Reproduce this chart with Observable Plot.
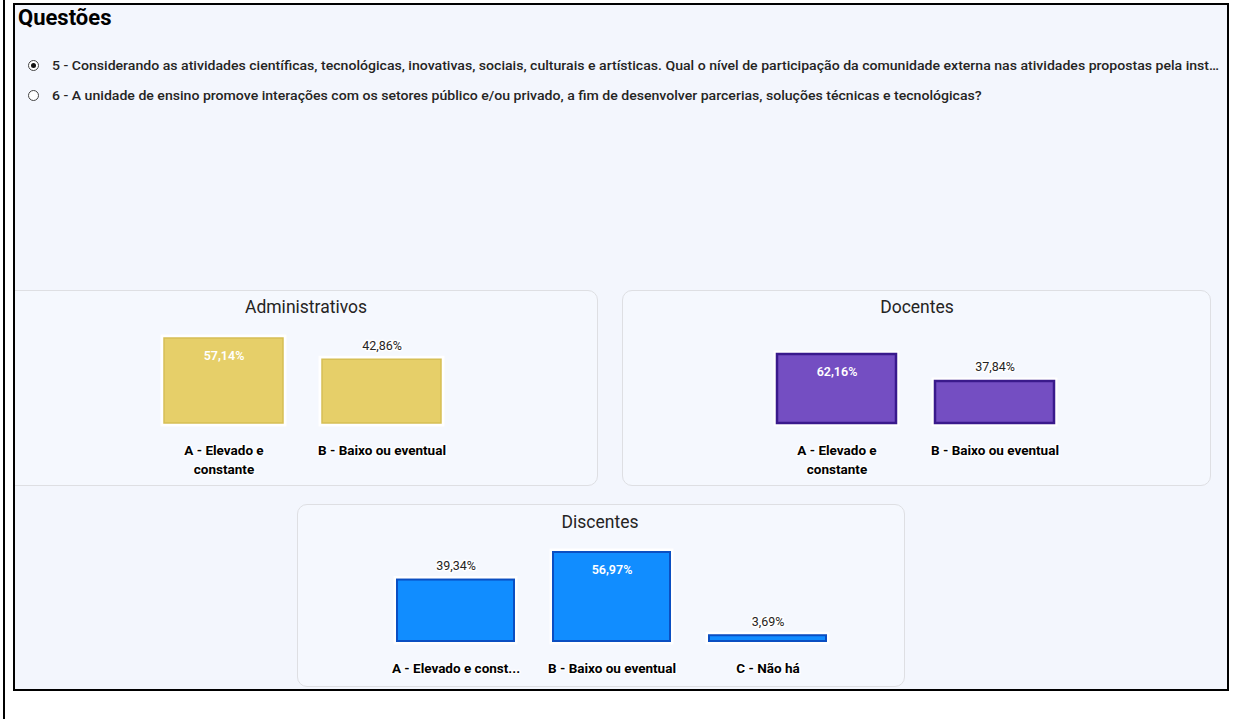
<!DOCTYPE html>
<html>
<head>
<meta charset="utf-8">
<script src="https://cdn.jsdelivr.net/npm/d3@7"></script>
<script src="https://cdn.jsdelivr.net/npm/@observablehq/plot@0.6"></script>
<style>
  html, body { margin: 0; padding: 0; background: #fff; width: 1246px; height: 719px; overflow: hidden; font-family: Roboto, "Noto Sans", sans-serif; }
  #outerline { position: absolute; left: 3px; top: 0; width: 2px; height: 719px; background: #000; }
  #frame { position: absolute; left: 13px; top: 3px; width: 1216px; height: 688px; border: 2px solid #000; box-sizing: border-box; overflow: hidden; background: #f3f6fd; }
  #inner { position: absolute; left: -15px; top: -5px; width: 1246px; height: 719px; }
  .abs { position: absolute; }
  #hdr { left: 18px; top: 5px; font-size: 22px; font-weight: bold; color: #000; }
  .radio { position: absolute; width: 9px; height: 9px; border: 1.3px solid #444; border-radius: 50%; background: #fff; }
  .radio.sel::after { content: ""; position: absolute; left: 2px; top: 2px; width: 5px; height: 5px; border-radius: 50%; background: #111; }
  .q { position: absolute; left: 52px; font-size: 12px; font-weight: 500; color: #252423; white-space: nowrap; transform-origin: 0 50%; line-height: 16px; }
  .card { position: absolute; background: #f5f8fe; border: 1px solid #dedfe3; border-radius: 10px; box-sizing: border-box; }
  .ctitle { position: absolute; font-size: 17.5px; color: #252423; text-align: center; white-space: nowrap; transform: translateX(-50%); line-height: 20px; }
  .plot { position: absolute; }
  #measure { position: absolute; visibility: hidden; white-space: nowrap; font-size: 12px; font-weight: 500; font-family: Roboto, "Noto Sans", sans-serif; }
</style>
</head>
<body>
<div id="outerline"></div>
<div id="frame"><div id="inner">
  <div id="hdr" class="abs">Questões</div>
  <div class="radio sel" style="left:28px; top:60px;"></div>
  <div class="radio" style="left:28px; top:90px;"></div>
  <div id="q1" class="q" style="top:58px;"></div>
  <div id="q2" class="q" style="top:88px;"></div>

  <div class="card" style="left:5px; top:290px; width:593px; height:196px;"></div>
  <div class="card" style="left:622px; top:290px; width:589px; height:196px;"></div>
  <div class="card" style="left:297px; top:504px; width:608px; height:183px;"></div>

  <div class="ctitle" style="left:306px; top:297px;">Administrativos</div>
  <div class="ctitle" style="left:917px; top:297px;">Docentes</div>
  <div class="ctitle" style="left:600px; top:512px;">Discentes</div>

  <div id="p1" class="plot" style="left:5px; top:290px;"></div>
  <div id="p2" class="plot" style="left:622px; top:290px;"></div>
  <div id="p3" class="plot" style="left:297px; top:504px;"></div>
</div></div>
<span id="measure"></span>

<script>
// ---- data ----
const questions = [
  "5 - Considerando as atividades científicas, tecnológicas, inovativas, sociais, culturais e artísticas. Qual o nível de participação da comunidade externa nas atividades propostas pela instituição?",
  "6 - A unidade de ensino promove interações com os setores público e/ou privado, a fim de desenvolver parcerias, soluções técnicas e tecnológicas?"
];
const visibleQ1 = "5 - Considerando as atividades científicas, tecnológicas, inovativas, sociais, culturais e artísticas. Qual o nível de participação da comunidade externa nas atividades propostas pela inst…";

const adminCats = ["A - Elevado e constante", "B - Baixo ou eventual"];
const adminTicks = ["A - Elevado e\nconstante", "B - Baixo ou eventual"];
const adminValues = [57.14, 42.86];

const docCats = ["A - Elevado e constante", "B - Baixo ou eventual"];
const docTicks = ["A - Elevado e\nconstante", "B - Baixo ou eventual"];
const docValues = [62.16, 37.84];

const discCats = ["A - Elevado e constante", "B - Baixo ou eventual", "C - Não há"];
const discTicks = ["A - Elevado e const...", "B - Baixo ou eventual", "C - Não há"];
const discValues = [39.34, 56.97, 3.69];

// ---- questions text ----
const q1 = document.getElementById("q1"), q2 = document.getElementById("q2");
const m = document.getElementById("measure");
m.textContent = visibleQ1;
const w = m.getBoundingClientRect().width;
const sc = (1219 - 52) / w;
q1.textContent = questions[0];
q2.textContent = questions[1];
q1.style.width = (w + 1) + "px";
q1.style.overflow = "hidden";
q1.style.textOverflow = "ellipsis";
q1.style.transform = `scaleX(${sc})`;
q2.style.transform = `scaleX(${sc})`;

const fmt = v => v.toFixed(2).replace(".", ",") + "%";

function makeChart({cats, ticks, values, fill, stroke, strokeWidth, width, height, mt, mb, ml, mr}) {
  const data = cats.map((c, i) => ({cat: c, tick: ticks[i], v: values[i]}));
  const max = d3.max(values);
  return Plot.plot({
    width, height,
    marginTop: mt, marginBottom: mb, marginLeft: ml, marginRight: mr,
    x: {domain: cats, paddingInner: 0.25, paddingOuter: 0, axis: null},
    y: {domain: [0, max], axis: null},
    style: {background: "transparent", overflow: "visible", fontFamily: "Roboto, 'Noto Sans', sans-serif"},
    marks: [
      Plot.barY(data, {x: "cat", y: "v", fill: "none", stroke: "white", strokeWidth: 7, strokeOpacity: 0.95}),
      Plot.barY(data, {x: "cat", y: "v", fill, stroke, strokeWidth}),
      Plot.text(data.filter(d => d.v === max), {x: "cat", y: "v", text: d => fmt(d.v), dy: 17, fill: "white", fontWeight: 600, fontSize: 12.5}),
      Plot.text(data.filter(d => d.v !== max), {x: "cat", y: "v", text: d => fmt(d.v), dy: -14, fill: "#252423", fontSize: 12.5, stroke: "white", strokeWidth: 3}),
      Plot.text(data, {x: "cat", y: 0, text: "tick", dy: 18, lineAnchor: "top", lineHeight: 1.4, fontWeight: "bold", fontSize: 13.5, fill: "#000", stroke: "white", strokeWidth: 3})
    ]
  });
}

document.getElementById("p1").appendChild(makeChart({
  cats: adminCats, ticks: adminTicks, values: adminValues,
  fill: "#e6cf69", stroke: "#d6bf55", strokeWidth: 1.5,
  width: 593, height: 196, mt: 48, mb: 63, ml: 159, mr: 157
}));
document.getElementById("p2").appendChild(makeChart({
  cats: docCats, ticks: docTicks, values: docValues,
  fill: "#744ec2", stroke: "#3a1a8c", strokeWidth: 2.5,
  width: 589, height: 196, mt: 64, mb: 63, ml: 154, mr: 157
}));
document.getElementById("p3").appendChild(makeChart({
  cats: discCats, ticks: discTicks, values: discValues,
  fill: "#118dff", stroke: "#0b4fc2", strokeWidth: 2,
  width: 608, height: 190, mt: 48, mb: 53, ml: 99, mr: 78
}));
</script>
</body>
</html>
